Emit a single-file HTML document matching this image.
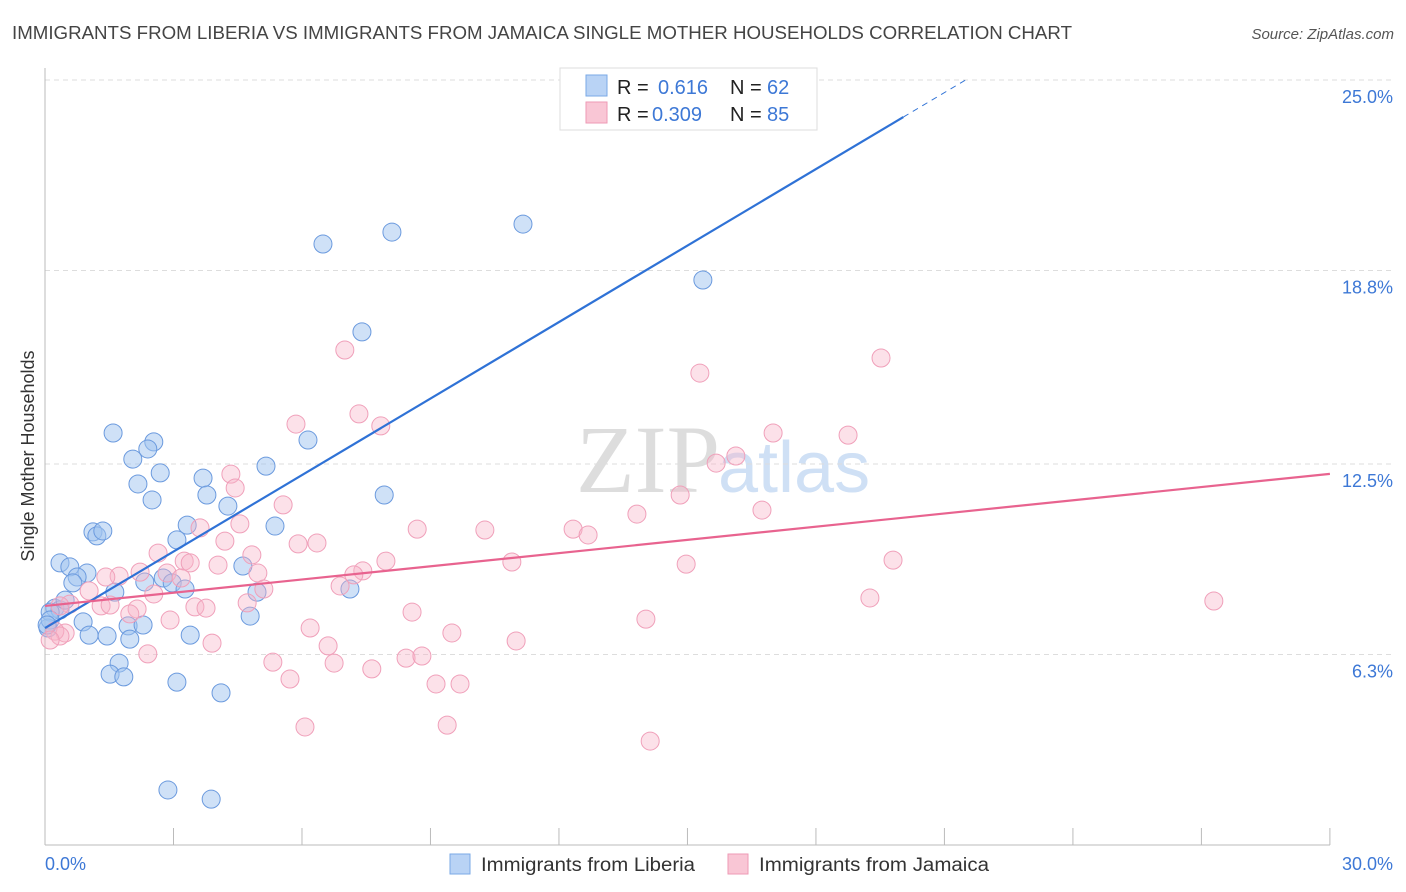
<!DOCTYPE html>
<html><head><meta charset="utf-8">
<style>
body{margin:0;background:#fff;font-family:"Liberation Sans",sans-serif;}
#wrap{position:relative;width:1406px;height:892px;overflow:hidden;}
</style></head>
<body>
<div id="wrap">
<svg id="chart" width="1406" height="892">
<text x="12" y="39" font-size="18" fill="#444" textLength="1060" lengthAdjust="spacingAndGlyphs">IMMIGRANTS FROM LIBERIA VS IMMIGRANTS FROM JAMAICA SINGLE MOTHER HOUSEHOLDS CORRELATION CHART</text>
<text x="1394" y="39" font-size="15" fill="#555" font-style="italic" text-anchor="end">Source: ZipAtlas.com</text>
<text x="720" y="492" font-size="96" fill="#ddd" font-family="Liberation Serif" text-anchor="end">ZIP</text>
<text x="718" y="492" font-size="72" fill="#cfe0f5">atlas</text>
<g id="grid"></g>
<line x1="45" y1="68" x2="45" y2="845" stroke="#bbb"/>
<line x1="45" y1="845" x2="1330" y2="845" stroke="#bbb"/>
<text x="34" y="456" font-size="18" fill="#333" text-anchor="middle" transform="rotate(-90 34 456)">Single Mother Households</text>
<text x="45" y="870" font-size="18" fill="#3d78d6">0.0%</text>
<text x="1393" y="870" font-size="18" fill="#3d78d6" text-anchor="end">30.0%</text>
<g id="pts"></g>
<g id="lines"></g>
<g>
<rect x="560" y="68" width="257" height="62" fill="#fff" stroke="#ddd"/>
<rect x="586" y="75" width="21" height="21" fill="#b9d3f5" stroke="#7aa8e6"/>
<rect x="586" y="102" width="21" height="21" fill="#f9c6d5" stroke="#ee9ab5"/>
<text x="617" y="94" font-size="20" fill="#222">R = </text>
<text x="658" y="94" font-size="20" fill="#3d78d6">0.616</text>
<text x="730" y="94" font-size="20" fill="#222">N = </text>
<text x="767" y="94" font-size="20" fill="#3d78d6">62</text>
<text x="617" y="121" font-size="20" fill="#222">R = </text>
<text x="652" y="121" font-size="20" fill="#3d78d6">0.309</text>
<text x="730" y="121" font-size="20" fill="#222">N = </text>
<text x="767" y="121" font-size="20" fill="#3d78d6">85</text>
</g>
<g>
<rect x="450" y="854" width="20" height="20" fill="#b9d3f5" stroke="#7aa8e6"/>
<text x="481" y="871" font-size="19" fill="#333" textLength="214" lengthAdjust="spacingAndGlyphs">Immigrants from Liberia</text>
</g>
<g>
<rect x="728" y="854" width="20" height="20" fill="#f9c6d5" stroke="#ee9ab5"/>
<text x="759" y="871" font-size="19" fill="#333" textLength="230" lengthAdjust="spacingAndGlyphs">Immigrants from Jamaica</text>
</g>
</svg>
</div>
<script>
const yTicks=[6.3,12.5,18.8,25.0];
const xTicks=[0,3,6,9,12,15,18,21,24,27,30];
const blueX=[6.49,8.10,11.16,15.36,7.40,1.59,2.54,2.40,2.05,2.69,2.17,2.50,3.69,3.78,4.27,5.16,6.14,7.92,3.32,3.08,1.12,1.21,1.35,0.35,0.58,0.98,0.75,0.65,2.33,2.76,2.97,3.27,4.62,4.95,5.37,7.12,1.63,0.23,0.35,0.12,0.07,0.89,1.94,2.29,1.03,1.45,1.98,3.39,4.79,1.73,1.52,1.84,3.08,4.11,2.87,3.88,0.12,0.05,0.47];
const blueY=[19.66,20.05,20.31,18.49,16.80,13.51,13.22,12.99,12.66,12.21,11.85,11.33,12.04,11.49,11.13,12.43,13.28,11.49,10.51,10.03,10.29,10.16,10.32,9.28,9.15,8.95,8.82,8.63,8.66,8.79,8.63,8.43,9.18,8.33,10.48,8.43,8.33,7.81,7.75,7.68,7.16,7.36,7.23,7.26,6.93,6.90,6.80,6.93,7.55,6.02,5.66,5.57,5.40,5.05,1.89,1.59,7.42,7.26,8.07];
const pinkX=[7.00,19.52,15.29,7.33,5.86,7.84,17.00,18.75,16.13,15.67,4.34,4.44,14.83,5.56,16.74,13.82,4.55,3.62,8.69,10.27,12.33,12.68,4.20,5.91,6.35,2.64,4.83,3.25,4.04,3.39,7.96,10.90,14.97,19.80,7.42,7.21,4.97,1.73,1.42,2.85,3.18,6.89,5.11,2.54,1.03,19.26,27.29,4.72,3.50,3.76,2.15,1.31,0.58,0.35,8.57,1.98,2.92,14.03,6.19,9.50,0.47,0.23,0.35,0.12,6.61,11.00,3.90,2.40,5.32,6.75,8.43,8.80,7.63,5.72,9.13,9.69,6.07,9.39,14.13,1.52,2.22];
const pinkY=[16.21,15.95,15.46,14.13,13.80,13.74,13.51,13.44,12.76,12.53,12.17,11.72,11.49,11.17,11.00,10.87,10.55,10.42,10.38,10.35,10.38,10.19,9.99,9.90,9.93,9.60,9.54,9.34,9.21,9.28,9.34,9.31,9.24,9.37,9.02,8.89,8.95,8.85,8.82,8.95,8.79,8.53,8.43,8.27,8.37,8.14,8.04,7.98,7.85,7.81,7.78,7.88,7.94,7.88,7.68,7.62,7.42,7.45,7.16,7.00,7.00,7.06,6.90,6.77,6.58,6.74,6.67,6.32,6.05,6.02,6.18,6.25,5.83,5.50,5.34,5.34,3.94,4.00,3.48,7.91,8.98];
const blueLine=[7.16,0.83];   // intercept, slope
const pinkLine=[7.88,0.1433];
const NS='http://www.w3.org/2000/svg';
const xs=v=>45+v*42.83, ys=v=>80+(25-v)*30.72;
function mk(t,a,p){const e=document.createElementNS(NS,t);for(const k in a)e.setAttribute(k,a[k]);p.appendChild(e);return e;}
const grid=document.getElementById('grid');
yTicks.forEach(t=>{
 const l=mk('line',{x1:45,x2:1393,y1:ys(t),y2:ys(t),stroke:'#ddd','stroke-dasharray':'5,4'},grid);
 
 
 const tx=mk('text',{x:1393,y:ys(t)+23,'font-size':18,fill:'#3d78d6','text-anchor':'end'},grid);
 tx.textContent=t.toFixed(1)+'%';
 
 
});
xTicks.forEach(t=>{
 const l=mk('line',{x1:xs(t),x2:xs(t),y1:828,y2:845,stroke:'#bbb'},grid);
 
 
});
const pts=document.getElementById('pts');
blueX.forEach((x,i)=>{
 const c=mk('circle',{cx:xs(x),cy:ys(blueY[i]),r:9,fill:'rgba(160,195,240,0.5)',stroke:'#6b9ade','stroke-width':1},pts);
 
 
});
pinkX.forEach((x,i)=>{
 const c=mk('circle',{cx:xs(x),cy:ys(pinkY[i]),r:9,fill:'rgba(248,180,200,0.4)',stroke:'#f0a0ba','stroke-width':1},pts);
 
 
});
const lines=document.getElementById('lines');
const bEnd=20.04, bMax=(25-blueLine[0])/blueLine[1];
let l1=mk('line',{x1:xs(0),y1:ys(blueLine[0]),x2:xs(bEnd),y2:ys(blueLine[0]+blueLine[1]*bEnd),stroke:'#2f72d6','stroke-width':2.2},lines);


let l2=mk('line',{x1:xs(bEnd),y1:ys(blueLine[0]+blueLine[1]*bEnd),x2:xs(bMax),y2:ys(25),stroke:'#2f72d6','stroke-width':1,'stroke-dasharray':'6,5'},lines);


let l3=mk('line',{x1:xs(0),y1:ys(pinkLine[0]),x2:xs(30),y2:ys(pinkLine[0]+pinkLine[1]*30),stroke:'#e8638f','stroke-width':2.2},lines);


</script>
</body></html>
